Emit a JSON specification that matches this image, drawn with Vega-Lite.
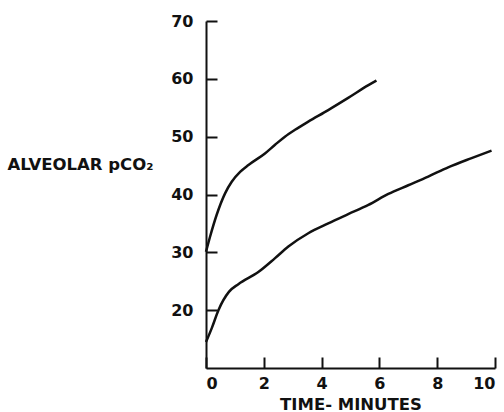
{
  "$schema": "https://vega.github.io/schema/vega-lite/v6.json",
  "width": 289,
  "height": 347,
  "autosize": "none",
  "padding": {"left": 206, "top": 21, "right": 9, "bottom": 44},
  "background": "white",
  "config": {
    "view": {"stroke": null},
    "axis": {
      "grid": false,
      "domainColor": "#111",
      "domainWidth": 2,
      "tickColor": "#111",
      "tickWidth": 2,
      "tickSize": -11,
      "labelFont": "DejaVu Sans",
      "labelFontWeight": "bold",
      "labelFontSize": 16,
      "labelColor": "#111",
      "titleFont": "DejaVu Sans",
      "titleFontWeight": "bold",
      "titleFontSize": 16.5,
      "titleColor": "#111"
    }
  },
  "data": {
    "values": [
      {"t": 0.0, "p": 30.1, "s": "upper"},
      {"t": 0.14, "p": 32.7, "s": "upper"},
      {"t": 0.37, "p": 36.5, "s": "upper"},
      {"t": 0.66, "p": 40.2, "s": "upper"},
      {"t": 0.89, "p": 42.2, "s": "upper"},
      {"t": 1.18, "p": 43.9, "s": "upper"},
      {"t": 1.47, "p": 45.1, "s": "upper"},
      {"t": 2.04, "p": 47.1, "s": "upper"},
      {"t": 2.39, "p": 48.6, "s": "upper"},
      {"t": 2.73, "p": 50.0, "s": "upper"},
      {"t": 3.08, "p": 51.2, "s": "upper"},
      {"t": 3.54, "p": 52.6, "s": "upper"},
      {"t": 4.23, "p": 54.6, "s": "upper"},
      {"t": 4.92, "p": 56.7, "s": "upper"},
      {"t": 5.62, "p": 58.9, "s": "upper"},
      {"t": 5.9, "p": 59.7, "s": "upper"},
      {"t": 0.0, "p": 14.5, "s": "lower"},
      {"t": 0.2, "p": 16.9, "s": "lower"},
      {"t": 0.43, "p": 20.0, "s": "lower"},
      {"t": 0.8, "p": 23.2, "s": "lower"},
      {"t": 1.12, "p": 24.5, "s": "lower"},
      {"t": 1.81, "p": 26.6, "s": "lower"},
      {"t": 2.39, "p": 29.0, "s": "lower"},
      {"t": 2.85, "p": 31.0, "s": "lower"},
      {"t": 3.54, "p": 33.3, "s": "lower"},
      {"t": 4.23, "p": 35.0, "s": "lower"},
      {"t": 4.92, "p": 36.6, "s": "lower"},
      {"t": 5.62, "p": 38.2, "s": "lower"},
      {"t": 6.31, "p": 40.1, "s": "lower"},
      {"t": 7.0, "p": 41.6, "s": "lower"},
      {"t": 7.69, "p": 43.1, "s": "lower"},
      {"t": 8.38, "p": 44.7, "s": "lower"},
      {"t": 9.19, "p": 46.3, "s": "lower"},
      {"t": 9.88, "p": 47.6, "s": "lower"}
    ]
  },
  "mark": {"type": "line", "interpolate": "monotone", "color": "#111", "strokeWidth": 2.5},
  "encoding": {
    "x": {
      "field": "t",
      "type": "quantitative",
      "scale": {"domain": [0, 10], "nice": false},
      "axis": {
        "values": [0, 2, 4, 6, 8, 10],
        "labelPadding": 18,
        "title": "TIME- MINUTES",
        "titleY": 36,
        "titleBaseline": "middle"
      }
    },
    "y": {
      "field": "p",
      "type": "quantitative",
      "scale": {"domain": [10, 70], "nice": false, "zero": false},
      "axis": {
        "values": [20, 30, 40, 50, 60, 70],
        "labelPadding": 24,
        "title": "ALVEOLAR pCO₂",
        "titleAngle": 0,
        "titleAlign": "left",
        "titleBaseline": "middle",
        "titleX": -199,
        "titleY": 143
      }
    },
    "detail": {"field": "s"}
  }
}
